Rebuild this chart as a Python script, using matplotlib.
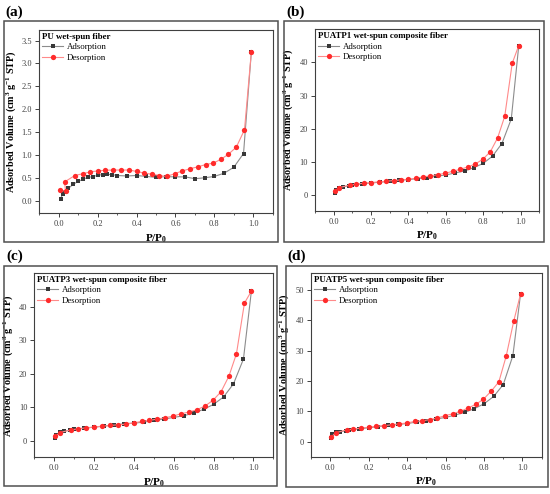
import matplotlib
matplotlib.use("Agg")
import matplotlib.pyplot as plt
from matplotlib.patches import Rectangle
from matplotlib.ticker import MultipleLocator, FormatStrFormatter
from matplotlib.lines import Line2D

plt.rcParams['font.family'] = ['Liberation Serif', 'DejaVu Serif']
plt.rcParams['mathtext.fontset'] = 'custom'
plt.rcParams['mathtext.rm'] = 'Liberation Serif'
plt.rcParams['mathtext.bf'] = 'Liberation Serif:bold'
plt.rcParams['mathtext.it'] = 'Liberation Serif:italic'

# ---------------- data ----------------
panel_labels = ["(a)", "(b)", "(c)", "(d)"]
titles = ["PU wet-spun fiber", "PUATP1 wet-spun composite fiber",
          "PUATP3 wet-spun composite fiber", "PUATP5 wet-spun composite fiber"]

a_ads_x = [0.01, 0.02, 0.03, 0.05, 0.075, 0.10, 0.125, 0.15, 0.175, 0.20, 0.225, 0.25, 0.275, 0.30,
           0.35, 0.40, 0.45, 0.50, 0.55, 0.60, 0.65, 0.70, 0.75, 0.80, 0.85, 0.90, 0.95, 0.99]
a_ads_y = [0.04, 0.15, 0.19, 0.27, 0.36, 0.42, 0.47, 0.51, 0.525, 0.555, 0.57, 0.575, 0.57, 0.55,
           0.54, 0.55, 0.53, 0.51, 0.525, 0.52, 0.52, 0.48, 0.50, 0.53, 0.60, 0.73, 1.03, 3.24]
a_des_x = [0.99, 0.955, 0.913, 0.871, 0.832, 0.794, 0.755, 0.717, 0.676, 0.636, 0.596, 0.555, 0.517,
           0.478, 0.44, 0.40, 0.36, 0.32, 0.28, 0.24, 0.20, 0.163, 0.124, 0.083, 0.03, 0.035, 0.005]
a_des_y = [3.24, 1.55, 1.17, 1.01, 0.90, 0.82, 0.79, 0.74, 0.70, 0.65, 0.59, 0.53, 0.55,
           0.58, 0.60, 0.64, 0.67, 0.67, 0.67, 0.665, 0.65, 0.63, 0.59, 0.55, 0.41, 0.21, 0.23]

ads_x = [0.005, 0.01, 0.03, 0.05, 0.08, 0.10, 0.15, 0.20, 0.25, 0.30, 0.35, 0.40, 0.45, 0.50,
         0.55, 0.60, 0.65, 0.70, 0.75, 0.80, 0.85, 0.90, 0.95, 0.99]
des_x = [0.99, 0.955, 0.915, 0.877, 0.838, 0.797, 0.757, 0.717, 0.677, 0.637, 0.597, 0.557, 0.517,
         0.477, 0.44, 0.40, 0.36, 0.32, 0.28, 0.24, 0.20, 0.16, 0.12, 0.085, 0.03, 0.005]

b_ads_y = [0.6, 1.6, 2.1, 2.4, 2.7, 3.0, 3.3, 3.6, 3.8, 4.1, 4.4, 4.6, 4.9, 5.2,
           5.6, 6.0, 6.6, 7.2, 8.2, 9.5, 11.7, 15.5, 22.9, 45.0]
b_des_y = [45.1, 39.7, 23.7, 17.2, 13.0, 10.7, 9.3, 8.4, 7.7, 7.1, 6.5, 6.1, 5.7,
           5.4, 5.0, 4.7, 4.5, 4.3, 4.1, 3.9, 3.7, 3.5, 3.2, 2.9, 2.2, 1.1]

c_ads_y = [0.8, 1.8, 2.5, 2.8, 3.1, 3.3, 3.7, 4.0, 4.3, 4.6, 5.0, 5.2, 5.5, 6.0,
           6.4, 6.9, 7.4, 8.2, 9.3, 10.8, 13.0, 16.9, 24.3, 44.6]
c_des_y = [44.6, 41.0, 25.9, 19.2, 14.6, 12.0, 10.3, 9.2, 8.5, 8.0, 7.3, 6.8, 6.4,
           6.0, 5.7, 5.3, 4.9, 4.7, 4.5, 4.3, 4.0, 3.8, 3.5, 3.2, 2.4, 1.3]

d_ads_y = [1.2, 2.6, 3.1, 3.3, 3.6, 3.8, 4.3, 4.6, 5.0, 5.4, 5.7, 6.0, 6.5, 6.9,
           7.5, 8.0, 8.8, 9.7, 10.9, 12.5, 14.9, 18.8, 28.3, 48.6]
d_des_y = [48.6, 39.8, 28.1, 19.7, 16.7, 14.0, 12.3, 11.1, 10.0, 9.2, 8.6, 7.8, 7.3,
           6.9, 6.7, 6.2, 5.9, 5.6, 5.3, 5.1, 4.8, 4.5, 4.2, 3.9, 3.0, 1.6]

series = [
    (a_ads_x, a_ads_y, a_des_x, a_des_y),
    (ads_x, b_ads_y, des_x, b_des_y),
    (ads_x, c_ads_y, des_x, c_des_y),
    (ads_x, d_ads_y, des_x, d_des_y),
]

# ---------------- layout ----------------
W, H = 550, 494
fig = plt.figure(figsize=(W / 100, H / 100), dpi=100)

def fx(px):
    return px / W

def fy(py):
    return 1 - py / H

axes_px = [  # left, top, right, bottom in pixels
    (39.3, 30.0, 272.7, 213.3),
    (315.0, 29.3, 539.3, 210.7),
    (34.3, 273.0, 273.3, 457.3),
    (311.0, 273.0, 541.7, 456.7),
]
frames_px = [
    (4, 21, 277.5, 242.5),
    (284.5, 21, 544.3, 242.0),
    (4, 266, 276.7, 486),
    (286, 266, 548.3, 487.3),
]
label_px = [(14, 12), (296, 12), (15, 256), (297, 256)]
ylims = [(-0.276, 3.73), (-4.8, 50), (-5.0, 50), (-4.9, 55.5)]
ystep = [0.5, 10, 10, 10]
yfmt = ["%.1f", "%d", "%d", "%d"]

ads_marker = "#383838"
ads_line = "#8c8c8c"
des_marker = "#ff2b2b"
des_line = "#ff8a8a"
spine_col = "#404040"

for i in range(4):
    l, t, r, b = axes_px[i]
    ax = fig.add_axes([fx(l), fy(b), fx(r) - fx(l), fy(t) - fy(b)])
    axx, axy, dsx, dsy = series[i]
    ax.plot(axx, axy, '-', color=ads_line, lw=0.8, zorder=2)
    ax.plot(axx, axy, 's', color=ads_marker, ms=3.4, mew=0, zorder=3)
    ax.plot(dsx, dsy, '-', color=des_line, lw=0.8, zorder=4)
    ax.plot(dsx, dsy, 'o', color=des_marker, ms=3.8, mew=0, zorder=5)

    ax.set_xlim(-0.1, 1.1)
    ax.set_ylim(*ylims[i])
    ax.xaxis.set_major_locator(MultipleLocator(0.2))
    ax.xaxis.set_minor_locator(MultipleLocator(0.1))
    ax.xaxis.set_major_formatter(FormatStrFormatter("%.1f"))
    ax.set_xticks([0.0, 0.2, 0.4, 0.6, 0.8, 1.0])
    yt = []
    v = 0.0
    while v <= ylims[i][1] - 0.1 * ystep[i] + 1e-9:
        yt.append(v)
        v += ystep[i]
    ax.set_yticks(yt)
    ax.yaxis.set_major_formatter(FormatStrFormatter(yfmt[i]))
    ax.tick_params(axis='both', which='major', direction='out', length=3, width=0.7,
                   labelsize=6, colors=spine_col, pad=2, top=False, right=False)
    ax.tick_params(axis='x', which='minor', direction='out', length=1.6, width=0.6,
                   colors=spine_col, top=False)
    for s in ax.spines.values():
        s.set_color(spine_col)
        s.set_linewidth(0.8)

    ax.set_xlabel(r'P/P$_{\mathbf{0}}$', fontsize=8, fontweight='bold', labelpad=3)
    ax.set_ylabel(r'Adsorbed Volume (cm$^{\mathbf{3}}$ g$^{\mathbf{-1}}$ STP)',
                  fontsize=7.3, fontweight='bold', labelpad=3)

    handles = [
        Line2D([], [], color=ads_line, lw=0.8, marker='s', ms=3.4,
               markerfacecolor=ads_marker, markeredgewidth=0),
        Line2D([], [], color=des_line, lw=0.8, marker='o', ms=3.8,
               markerfacecolor=des_marker, markeredgewidth=0),
    ]
    leg = ax.legend(handles, ["Adsorption", "Desorption"], title=titles[i],
                    loc='upper left', frameon=False, fontsize=6.3,
                    title_fontproperties={'weight': 'bold', 'size': 6.4},
                    handlelength=2.4, handletextpad=0.4, borderaxespad=0.15,
                    labelspacing=0.25, borderpad=0.2)
    leg._legend_box.align = "left"

    fl, ft, fr, fb = frames_px[i]
    fig.add_artist(Rectangle((fx(fl), fy(fb)), fx(fr) - fx(fl), fy(ft) - fy(fb),
                             transform=fig.transFigure, fill=False,
                             edgecolor='#505050', lw=1.1))
    lx, ly = label_px[i]
    fig.text(fx(lx), fy(ly), panel_labels[i], fontsize=11, fontweight='bold',
             ha='center', va='center')

fig.savefig("out.png", dpi=100)
